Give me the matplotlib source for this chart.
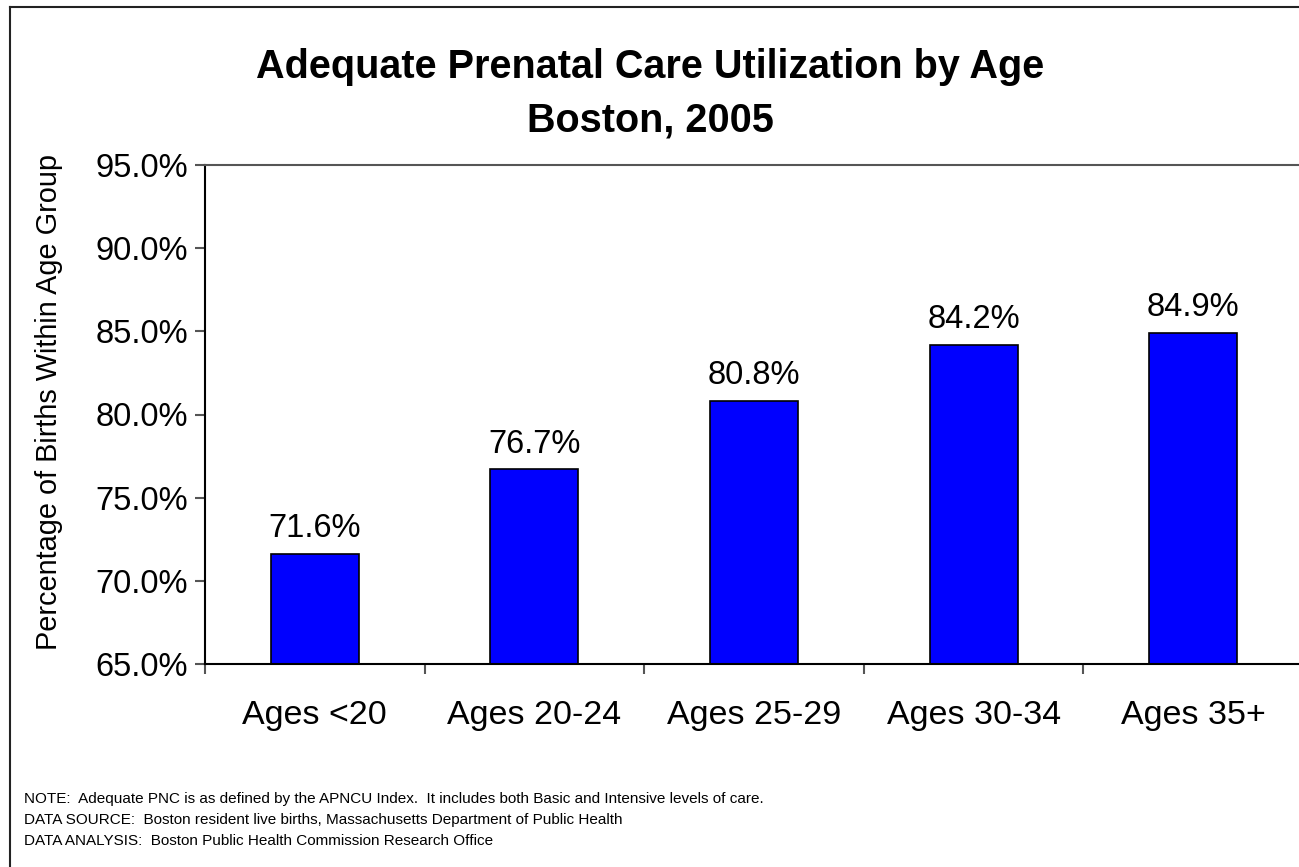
import numpy as np
import matplotlib
matplotlib.use("Agg")
import matplotlib.pyplot as plt
from matplotlib.lines import Line2D

plt.rcParams['font.family'] = ['Liberation Sans', 'DejaVu Sans']

# data
categories = ['Ages <20', 'Ages 20-24', 'Ages 25-29', 'Ages 30-34', 'Ages 35+']
values = [71.6, 76.7, 80.8, 84.2, 84.9]
yticks = [65.0, 70.0, 75.0, 80.0, 85.0, 90.0, 95.0]
notes = [
    'NOTE:  Adequate PNC is as defined by the APNCU Index.  It includes both Basic and Intensive levels of care.',
    'DATA SOURCE:  Boston resident live births, Massachusetts Department of Public Health',
    'DATA ANALYSIS:  Boston Public Health Commission Research Office',
]

W, H = 1299, 867
fig = plt.figure(figsize=(W / 100, H / 100), dpi=100)
ax = fig.add_axes([205 / W, 1 - 664 / H, 1098 / W, 499 / H])

x = np.arange(len(categories))
bars = ax.bar(x, values, width=0.40, color='#0000ff', edgecolor='black',
              linewidth=1.2, bottom=0)
ax.set_ylim(65, 95)
ax.set_xlim(-0.5, len(categories) - 0.5)

for xi, v in zip(x, values):
    ax.annotate('%.1f%%' % v, (xi, v), xytext=(0, 7), textcoords='offset points',
                ha='center', va='bottom', fontsize=23.5)

ax.set_yticks(yticks)
ax.set_yticklabels(['%.1f%%' % t for t in yticks], fontsize=23.5)
ax.set_xticks(x)
ax.set_xticklabels(categories, fontsize=24.5)
ax.set_xticks(np.arange(len(categories)) - 0.5, minor=True)
ax.tick_params(axis='x', which='major', length=0, pad=26)
ax.tick_params(axis='x', which='minor', length=7, width=1.5, color='#555555')
ax.tick_params(axis='y', length=7, width=1.5, color='#555555', pad=5)

ax.set_ylabel('Percentage of Births Within Age Group', fontsize=20.8)
ax.yaxis.set_label_coords(-(205 - 63) / 1098, 0.5 + 13 / 499)

ax.spines['left'].set_linewidth(1.5)
ax.spines['bottom'].set_linewidth(1.5)
ax.spines['top'].set_linewidth(1.5)
ax.spines['top'].set_color('#555555')
ax.spines['right'].set_visible(False)

fig.text(650 / W, 1 - 78 / H, 'Adequate Prenatal Care Utilization by Age',
         ha='center', va='baseline', fontsize=28.5, fontweight='bold')
fig.text(650 / W, 1 - 131 / H, 'Boston, 2005',
         ha='center', va='baseline', fontsize=28.5, fontweight='bold')

for i, line in enumerate(notes):
    fig.text(24 / W, 1 - (799 + 21 * i) / H, line, ha='left', va='center',
             fontsize=11, family=['Liberation Sans Narrow', 'Liberation Sans'])

# outer frame (only left and top visible in the crop)
fig.add_artist(Line2D([10 / W, 10 / W], [0, 1 - 7 / H], color='#222222', lw=1.5,
                      transform=fig.transFigure))
fig.add_artist(Line2D([10 / W, 1], [1 - 7 / H, 1 - 7 / H], color='#222222', lw=1.5,
                      transform=fig.transFigure))

fig.savefig('out.png', dpi=100)
